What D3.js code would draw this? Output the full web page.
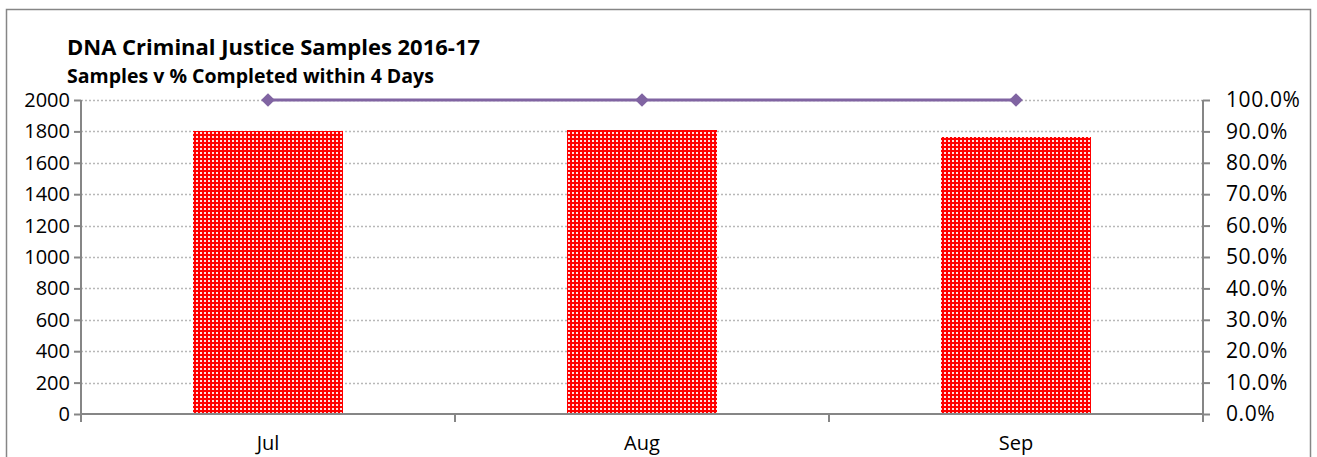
<!DOCTYPE html>
<html>
<head>
<script src="https://d3js.org/d3.v7.min.js"></script>
<style>
  body { margin: 0; background: #fff; }
  text { font-family: "Open Sans", "Noto Sans", sans-serif; }
</style>
</head>
<body>
<svg id="viz"></svg>
<script>
// data
var months = ["Jul", "Aug", "Sep"];
var samples = [1800, 1810, 1765];
var pctWithin4Days = [1.0, 1.0, 1.0];
var leftTicks = [0, 200, 400, 600, 800, 1000, 1200, 1400, 1600, 1800, 2000];
var rightTicks = [0, 0.1, 0.2, 0.3, 0.4, 0.5, 0.6, 0.7, 0.8, 0.9, 1.0];

var width = 1317, height = 457;
var plot = {left: 81, right: 1203, top: 100, bottom: 414};

var svg = d3.select("#viz").attr("width", width).attr("height", height);

// red fill with small white squares, like the excel pattern
var defs = svg.append("defs");
var pat = defs.append("pattern")
  .attr("id", "dots")
  .attr("patternUnits", "userSpaceOnUse")
  .attr("width", 4).attr("height", 4);
pat.append("rect").attr("width", 4).attr("height", 4).attr("fill", "#ff0000")
  .attr("shape-rendering", "crispEdges");
pat.append("rect").attr("x", 0).attr("y", 0).attr("width", 2).attr("height", 2)
  .attr("fill", "#ffe0e0").attr("shape-rendering", "crispEdges");

// outer frame
svg.append("rect")
  .attr("x", 6.5).attr("y", 9.5)
  .attr("width", 1304).attr("height", 460)
  .attr("fill", "none").attr("stroke", "#868686").attr("stroke-width", 1.5);

var x = d3.scaleBand().domain(months).range([plot.left, plot.right]).paddingInner(0.6).paddingOuter(0.3);
var xOuter = d3.scaleBand().domain(months).range([plot.left, plot.right]);
var y = d3.scaleLinear().domain([0, 2000]).range([plot.bottom, plot.top]);
var y2 = d3.scaleLinear().domain([0, 1]).range([plot.bottom, plot.top]);

// gridlines
svg.append("g").selectAll("line")
  .data(leftTicks.filter(function(d) { return d > 0; }))
  .enter().append("line")
  .attr("x1", plot.left).attr("x2", plot.right)
  .attr("y1", function(d) { return Math.round(y(d)) + 0.5; })
  .attr("y2", function(d) { return Math.round(y(d)) + 0.5; })
  .attr("stroke", "#b8b8b8").attr("stroke-width", 1.5)
  .attr("stroke-dasharray", "2,2");

// bars
svg.append("g").selectAll("rect")
  .data(samples)
  .enter().append("rect")
  .attr("x", function(d, i) { return Math.round(x(months[i])); })
  .attr("width", Math.round(x.bandwidth()))
  .attr("y", function(d) { return Math.round(y(d)); })
  .attr("height", function(d) { return Math.round(y(0)) - Math.round(y(d)); })
  .attr("fill", "url(#dots)")
  .attr("shape-rendering", "crispEdges");

// axes
var leftAxis = d3.axisLeft(y).tickValues(leftTicks).tickSize(7).tickPadding(4).tickFormat(d3.format("d"));
var gl = svg.append("g").attr("transform", "translate(" + plot.left + ",0)").call(leftAxis);

var rightAxis = d3.axisRight(y2).tickValues(rightTicks).tickSize(7).tickPadding(16).tickFormat(d3.format(".1%"));
var gr = svg.append("g").attr("transform", "translate(" + plot.right + ",0)").call(rightAxis);

var bottomAxis = d3.axisBottom(x).tickSize(0).tickPadding(22);
var gb = svg.append("g").attr("transform", "translate(0," + plot.bottom + ")").call(bottomAxis);

// category boundary ticks
svg.append("g").selectAll("line")
  .data([plot.left, plot.left + xOuter.step(), plot.left + 2 * xOuter.step(), plot.right])
  .enter().append("line")
  .attr("x1", function(d) { return d; }).attr("x2", function(d) { return d; })
  .attr("y1", plot.bottom).attr("y2", plot.bottom + 8)
  .attr("stroke", "#868686").attr("stroke-width", 2);

[gl, gr, gb].forEach(function(g) {
  g.select(".domain").attr("stroke", "#868686").attr("stroke-width", 2);
  g.selectAll(".tick line").attr("stroke", "#868686").attr("stroke-width", 2);
  g.selectAll(".tick text").attr("fill", "#000").style("font-size", "20px")
    .style("font-family", "'Open Sans', 'Noto Sans', sans-serif");
});
gr.selectAll(".tick text").style("font-size", "21px").attr("letter-spacing", "0.6px");
gl.select(".domain").attr("d", "M0," + plot.top + "V" + plot.bottom);
gr.select(".domain").attr("d", "M0," + plot.top + "V" + plot.bottom);
gb.select(".domain").attr("d", "M" + plot.left + ",0H" + plot.right);

// percent line
var line = d3.line()
  .x(function(d, i) { return x(months[i]) + x.bandwidth() / 2; })
  .y(function(d) { return y2(d); });

svg.append("path")
  .datum(pctWithin4Days)
  .attr("d", line)
  .attr("fill", "none")
  .attr("stroke", "#8064a2")
  .attr("stroke-width", 3);

svg.append("g").selectAll("path")
  .data(pctWithin4Days)
  .enter().append("path")
  .attr("transform", function(d, i) {
    return "translate(" + (x(months[i]) + x.bandwidth() / 2) + "," + y2(d) + ")";
  })
  .attr("d", d3.symbol().type(d3.symbolDiamond2).size(120))
  .attr("fill", "#8064a2");

// titles
svg.append("text")
  .attr("x", 67).attr("y", 55)
  .style("font-size", "22px").style("font-weight", "bold")
  .text("DNA Criminal Justice Samples 2016-17");

svg.append("text")
  .attr("x", 67).attr("y", 83)
  .style("font-size", "19.5px").style("font-weight", "bold")
  .text("Samples v % Completed within 4 Days");
</script>
</body>
</html>
